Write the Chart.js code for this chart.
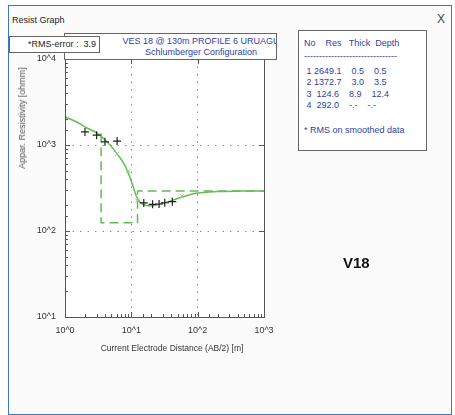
<!DOCTYPE html>
<html lang="en">
<head>
<meta charset="UTF-8">
<title>Resist Graph</title>
<style>
  body{margin:0;width:455px;height:415px;position:relative;overflow:hidden;background:#fff;font-family:"Liberation Sans",Arial,sans-serif}
  #win{position:absolute;left:8px;top:5px;width:444px;height:410px;box-sizing:border-box;border:1.5px solid #3f78c2;background:#fbfbfb}
  #cap{position:absolute;left:12px;top:15px;font-size:9px;color:#222}
  #close{position:absolute;left:437px;top:12px;font-size:12px;color:#444}
  canvas{position:absolute;left:0;top:0}
  .box{position:absolute;background:#fff;border:1px solid #666;box-sizing:border-box}
  #head{left:64px;top:33px;width:213px;height:27px;overflow:hidden;color:#3340a8;font-size:9px;line-height:11px}
  #head div{position:absolute;width:300px;left:-14px;text-align:center}
  #rms{left:9px;top:36px;width:91px;height:17px;font-size:9px;color:#222;line-height:15px;padding-left:18px;white-space:pre}
  #tab{left:298px;top:30px;width:129px;height:121px;color:#2f3f9f;font-size:9px;white-space:pre}
  #tab div{position:absolute;left:5px}
  #v18{position:absolute;left:343px;top:254px;font-size:15px;font-weight:bold;color:#111}
  #ytitle{position:absolute;left:22px;top:118px;transform:translate(-50%,-50%) rotate(-90deg);font-size:9px;color:#555;white-space:nowrap}
  #xtitle{position:absolute;left:172px;top:348px;transform:translate(-50%,-50%);font-size:8.5px;color:#333;white-space:nowrap}
</style>
<script src="https://cdn.jsdelivr.net/npm/chart.js"></script>
</head>
<body>
<div id="win"></div>
<div id="cap">Resist Graph</div>
<div id="close">X</div>
<canvas id="c" width="455" height="415"></canvas>
<div class="box" id="head"><div style="top:2px">VES 18 @ 130m PROFILE 6 URUAGU</div><div style="top:13px">Schlumberger Configuration</div></div>
<div class="box" id="rms"></div>
<div class="box" id="tab"></div>
<div id="v18">V18</div>
<div id="ytitle">Appar. Resistivity [ohmm]</div>
<div id="xtitle">Current Electrode Distance (AB/2) [m]</div>
<script>
// observed field data (+)
const abHalf = [2.0, 3.0, 4.0, 6.1, 15.4, 20.9, 26.2, 31.9, 41.5];
const rhoObs = [1420, 1300, 1090, 1110, 212, 204, 206, 213, 219];
// smoothed data (x)
const smoothX = [1.0, 6.1, 9.0, 12.4, 58];
const smoothRho = [2050, 790, 500, 225, 255];
// calculated curve
const calcX = [1, 1.5, 2, 3, 4, 5, 6, 8, 10, 12, 14, 17, 20, 25, 30, 40, 60, 100, 150, 200, 400, 1000];
const calcRho = [2120, 1850, 1620, 1380, 1150, 960, 800, 580, 380, 250, 210, 198, 197, 202, 210, 225, 250, 276, 284, 288, 291, 292];
// layer model
const layerNo = [1, 2, 3, 4];
const layerRes = [2649.1, 1372.7, 124.6, 292.0];
const layerThick = [0.5, 3.0, 8.9, null];
const layerDepth = [0.5, 3.5, 12.4, null];
const rmsError = 3.9;

const xMin = 1, xMax = 1000, yMin = 10, yMax = 10000;

document.getElementById('rms').textContent = '*RMS-error :  ' + rmsError.toFixed(1);

// table text
const fmt = v => v == null ? '-.-' : v.toFixed(1);
const tab = document.getElementById('tab');
const line = (txt, top) => { const d = document.createElement('div'); d.textContent = txt; d.style.top = top + 'px'; tab.appendChild(d); };
line('No    Res   Thick  Depth', 7);
line('-------------------------------', 20);
layerNo.forEach((n, i) => {
  line(' ' + n + ' ' + layerRes[i].toFixed(1).padStart(6) + '    ' + fmt(layerThick[i]) + '    ' + fmt(layerDepth[i]), 35 + i * 11.3);
});
line('* RMS on smoothed data', 94);

// step line of the model, layers starting left of the axis only give their end point
const model = [];
let prev = 0;
layerRes.forEach((r, i) => {
  const d = layerDepth[i] == null ? xMax : layerDepth[i];
  if (d <= xMin) { prev = d; return; }
  if (prev >= xMin) model.push({x: prev, y: r});
  model.push({x: d, y: r});
  prev = d;
});

const pts = (xs, ys) => xs.map((x, i) => ({x, y: ys[i]}));
const isMajor = v => { const l = Math.log10(v); return Math.abs(l - Math.round(l)) < 1e-9; };
const green = '#66bb55';

const frame = {
  id: 'frame',
  beforeDraw(c) {
    const {ctx, chartArea: a} = c;
    ctx.save();
    ctx.fillStyle = '#fff';
    ctx.fillRect(a.left, a.top, a.width, a.height);
    ctx.restore();
  },
  afterDraw(c) {
    const {ctx, chartArea: a} = c;
    ctx.save();
    ctx.strokeStyle = '#555';
    ctx.lineWidth = 1;
    ctx.beginPath();
    c.scales.x.ticks.forEach(t => {
      const p = Math.round(c.scales.x.getPixelForValue(t.value)) + 0.5;
      const len = isMajor(t.value) ? 5 : 3;
      ctx.moveTo(p, a.bottom); ctx.lineTo(p, a.bottom - len);
      if (isMajor(t.value)) { ctx.moveTo(p, a.top); ctx.lineTo(p, a.top + len); }
    });
    c.scales.y.ticks.forEach(t => {
      const p = Math.round(c.scales.y.getPixelForValue(t.value)) + 0.5;
      const len = isMajor(t.value) ? 5 : 3;
      ctx.moveTo(a.left, p); ctx.lineTo(a.left + len, p);
      if (isMajor(t.value)) { ctx.moveTo(a.right, p); ctx.lineTo(a.right - len, p); }
    });
    ctx.stroke();
    ctx.strokeRect(Math.round(a.left) + 0.5, Math.round(a.top) + 0.5, Math.round(a.width), Math.round(a.height));
    ctx.restore();
  }
};

const axisCommon = {
  type: 'logarithmic',
  grid: {drawTicks: false, color: c => c.tick && isMajor(c.tick.value) ? '#8c8c8c' : 'rgba(0,0,0,0)', lineWidth: 1},
  border: {display: false, dash: [1.5, 6]},
  ticks: {
    autoSkip: false, maxRotation: 0, color: '#333',
    font: {family: 'Liberation Sans', size: 9},
    callback: v => isMajor(v) ? '10^' + Math.round(Math.log10(v)) : ''
  }
};

new Chart(document.getElementById('c'), {
  type: 'scatter',
  data: {
    datasets: [
      {data: pts(abHalf, rhoObs), pointStyle: 'cross', radius: 4, borderColor: '#222', borderWidth: 1.2, showLine: false},
      {data: pts(smoothX, smoothRho), pointStyle: 'crossRot', radius: 3, borderColor: '#8fd47f', borderWidth: 1, showLine: false},
      {data: pts(calcX, calcRho), showLine: true, borderColor: green, borderWidth: 1.5, radius: 0, tension: 0.35, cubicInterpolationMode: 'monotone'},
      {data: model, showLine: true, borderColor: green, borderWidth: 1.5, borderDash: [9, 5], radius: 0}
    ]
  },
  options: {
    responsive: false,
    animation: false,
    layout: {padding: {left: 0, top: 59, right: 191, bottom: 53}},
    plugins: {legend: {display: false}, tooltip: {enabled: false}},
    scales: {
      x: {...axisCommon, min: xMin, max: xMax, position: 'bottom',
        ticks: {...axisCommon.ticks, padding: 8},
        afterFit: s => { s.height = 45; }},
      y: {...axisCommon, min: yMin, max: yMax,
        ticks: {...axisCommon.ticks, padding: 9},
        afterFit: s => { s.width = 65; }}
    }
  },
  plugins: [frame]
});
</script>
</body>
</html>
